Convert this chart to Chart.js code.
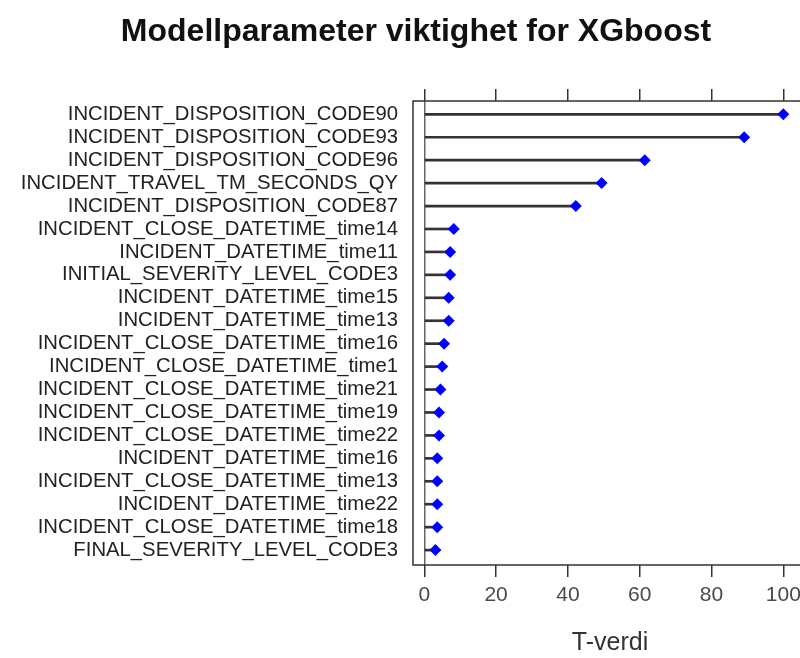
<!DOCTYPE html>
<html>
<head>
<meta charset="utf-8">
<script src="https://cdn.jsdelivr.net/npm/chart.js@4/dist/chart.umd.min.js"></script>
<style>
  html, body { margin: 0; padding: 0; background: #fff; overflow: hidden; }
  canvas { display: block; }
</style>
</head>
<body>
<canvas id="c" width="832" height="658"></canvas>
<script>
// Variable importance (T-value), most important first
const features = [
  'INCIDENT_DISPOSITION_CODE90',
  'INCIDENT_DISPOSITION_CODE93',
  'INCIDENT_DISPOSITION_CODE96',
  'INCIDENT_TRAVEL_TM_SECONDS_QY',
  'INCIDENT_DISPOSITION_CODE87',
  'INCIDENT_CLOSE_DATETIME_time14',
  'INCIDENT_DATETIME_time11',
  'INITIAL_SEVERITY_LEVEL_CODE3',
  'INCIDENT_DATETIME_time15',
  'INCIDENT_DATETIME_time13',
  'INCIDENT_CLOSE_DATETIME_time16',
  'INCIDENT_CLOSE_DATETIME_time1',
  'INCIDENT_CLOSE_DATETIME_time21',
  'INCIDENT_CLOSE_DATETIME_time19',
  'INCIDENT_CLOSE_DATETIME_time22',
  'INCIDENT_DATETIME_time16',
  'INCIDENT_CLOSE_DATETIME_time13',
  'INCIDENT_DATETIME_time22',
  'INCIDENT_CLOSE_DATETIME_time18',
  'FINAL_SEVERITY_LEVEL_CODE3'
];
const importance = [100, 89.1, 61.4, 49.4, 42.2, 8.2, 7.2, 7.2, 6.8, 6.8,
                    5.5, 5.0, 4.5, 4.1, 4.1, 3.6, 3.6, 3.6, 3.6, 3.1];
const xTicks = [0, 20, 40, 60, 80, 100];

const points = importance.map((v, i) => ({ x: v, y: i }));
const FONT = '"Liberation Sans", Arial, sans-serif';

// Frame around the plotting region
const frame = {
  id: 'frame',
  afterDatasetsDraw(chart) {
    const a = chart.chartArea, ctx = chart.ctx;
    ctx.save();
    ctx.strokeStyle = '#333';
    ctx.lineWidth = 1.5;
    ctx.strokeRect(a.left, a.top, a.right - a.left, a.bottom - a.top);
    ctx.restore();
  }
};

new Chart(document.getElementById('c'), {
  data: {
    datasets: [
      {
        type: 'scatter',
        data: points,
        pointStyle: 'rectRot',
        pointRadius: 6,
        pointBackgroundColor: '#0000ff',
        pointBorderWidth: 0,
        order: 0
      },
      {
        type: 'bar',
        indexAxis: 'y',
        data: points,
        backgroundColor: '#333',
        barThickness: 2,
        order: 1
      }
    ]
  },
  options: {
    responsive: false,
    animation: false,
    layout: { padding: 0 },
    plugins: {
      legend: { display: false },
      tooltip: { enabled: false },
      title: {
        display: true,
        text: 'Modellparameter viktighet for XGboost',
        color: '#111',
        font: { family: FONT, size: 32, weight: 'bold' },
        padding: { top: 13, bottom: 0 }
      }
    },
    scales: {
      x: {
        type: 'linear',
        position: 'bottom',
        min: -3.15,
        max: 106.6,
        afterBuildTicks: s => { s.ticks = xTicks.map(v => ({ value: v })); },
        afterFit: s => { s.height = 93; },
        border: { display: false },
        grid: {
          drawOnChartArea: true,
          color: c => (c.tick && c.tick.value === 0) ? '#666' : 'rgba(0,0,0,0)',
          tickColor: '#333',
          tickLength: 12,
          lineWidth: 1.5
        },
        ticks: {
          color: '#4a4a4a',
          font: { family: FONT, size: 21 },
          padding: 6,
          maxRotation: 0
        },
        title: {
          display: true,
          text: 'T-verdi',
          color: '#333',
          font: { family: FONT, size: 25 },
          padding: { top: 0, bottom: 0 }
        }
      },
      x2: {
        type: 'linear',
        position: 'top',
        min: -3.15,
        max: 106.6,
        afterBuildTicks: s => { s.ticks = xTicks.map(v => ({ value: v })); },
        afterFit: s => { s.height = 49.6; },
        border: { display: false },
        grid: {
          drawOnChartArea: false,
          tickColor: '#333',
          tickLength: 12,
          lineWidth: 1.5
        },
        ticks: { color: 'rgba(0,0,0,0)', font: { family: FONT, size: 12 } }
      },
      y: {
        type: 'linear',
        reverse: true,
        offset: false,
        min: -0.58,
        max: 19.65,
        afterBuildTicks: s => { s.ticks = features.map((_, i) => ({ value: i })); },
        afterFit: s => { s.width = 413; },
        border: { display: false },
        grid: { display: false, drawTicks: false },
        ticks: {
          autoSkip: false,
          color: '#222',
          font: { family: FONT, size: 20.3 },
          padding: 15,
          callback: v => features[v]
        }
      },
      // empty right-hand margin axis
      y2: {
        type: 'linear',
        position: 'right',
        min: 0,
        max: 1,
        afterFit: s => { s.width = 25; },
        border: { display: false },
        grid: { display: false, drawTicks: false },
        ticks: { color: 'rgba(0,0,0,0)', font: { size: 1 } }
      }
    }
  },
  plugins: [frame]
});
</script>
</body>
</html>
